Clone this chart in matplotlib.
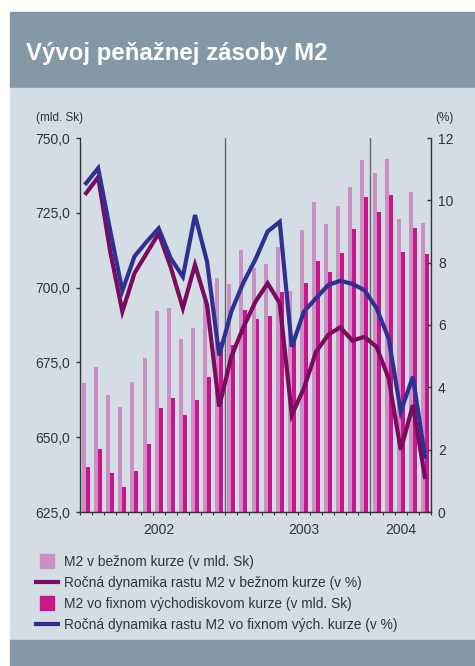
import matplotlib
matplotlib.use("Agg")
import matplotlib.pyplot as plt
from matplotlib.patches import Rectangle
from matplotlib.lines import Line2D
from matplotlib.ticker import FuncFormatter, FixedLocator
import numpy as np

# ==========================================================
#  DATA - peňažná zásoba M2, mesačne 01/2002 - 05/2004
# ==========================================================
mesiace = [f"{m:02d}/{r}" for r in (2002, 2003) for m in range(1, 13)] + \
          [f"{m:02d}/2004" for m in range(1, 6)]

# mld. Sk (ľavá os)
m2_bezny = [668.1, 673.5, 664.1, 660.1, 668.5, 676.5, 692.2, 693.2, 682.8, 686.5,
            695.5, 703.2, 701.2, 712.6, 706.6, 707.9, 713.6, 698.9, 719.3, 728.6,
            721.3, 727.3, 733.6, 742.6, 738.3, 743.0, 722.9, 732.0, 721.6]
m2_fixny = [640.0, 646.1, 638.0, 633.4, 638.7, 647.7, 659.8, 663.1, 657.4, 662.4,
            670.1, 681.7, 680.8, 692.5, 689.6, 690.5, 698.5, 683.5, 701.5, 708.9,
            705.2, 711.6, 719.6, 730.3, 725.3, 730.9, 711.9, 719.9, 711.2]

# % (pravá os)
dynamika_bezny = [10.23, 10.74, 8.35, 6.43, 7.66, 8.30, 8.94, 7.85, 6.54, 7.93,
                  6.64, 3.38, 4.98, 5.93, 6.75, 7.34, 6.70, 3.11, 3.97, 5.14,
                  5.68, 5.93, 5.50, 5.62, 5.30, 4.29, 1.99, 3.43, 1.12]
dynamika_fixny = [10.55, 11.03, 9.02, 7.10, 8.20, 8.67, 9.10, 8.14, 7.55, 9.53,
                  8.03, 5.02, 6.43, 7.36, 8.11, 9.00, 9.31, 5.30, 6.43, 6.86,
                  7.28, 7.42, 7.32, 7.12, 6.54, 5.57, 3.22, 4.34, 1.78]

roky = ["2002", "2003", "2004"]
roky_mesiac = ["07/2002", "07/2003", "03/2004"]
zaciatky_rokov = ["01/2003", "01/2004"]

popisy = ["M2 v bežnom kurze (v mld. Sk)",
          "Ročná dynamika rastu M2 v bežnom kurze (v %)",
          "M2 vo fixnom východiskovom kurze (v mld. Sk)",
          "Ročná dynamika rastu M2 vo fixnom vých. kurze (v %)"]

# farby
SIVA_PAS = "#8399a7"
POZADIE = "#d4dde3"
RUZOVA = "#cc8fc4"
MAGENTA = "#c8178d"
FIALOVA = "#7b0b5f"
MODRA = "#2e3192"
OS = "#333333"

plt.rcParams["font.family"] = ["Liberation Sans", "DejaVu Sans"]

W, H = 475, 666
fig = plt.figure(figsize=(W / 100, H / 100), dpi=100)
fig.patch.set_facecolor("white")

# pozadie - hlavička, panel, spodný pás (pod osami)
fig.patches.append(Rectangle((10 / W, 1 - 88 / H), 1, 76 / H, transform=fig.transFigure,
                             color=SIVA_PAS, zorder=-2))
fig.patches.append(Rectangle((10 / W, 1 - 640 / H), 1, 552 / H, transform=fig.transFigure,
                             color=POZADIE, zorder=-2))
fig.patches.append(Rectangle((10 / W, 0), 1, 26 / H, transform=fig.transFigure,
                             color=SIVA_PAS, zorder=-2))

fig.text(26 / W, 1 - 60 / H, "Vývoj peňažnej zásoby M2", color="white",
         fontsize=17.3, fontweight="bold", va="baseline", ha="left")

# ==========================================================
#  GRAF
# ==========================================================
ax = fig.add_axes([80 / W, 1 - 512 / H, 351 / W, 374 / H])
ax.set_facecolor("none")
x = np.arange(len(mesiace))
sirka = 0.33

b1 = ax.bar(x - sirka / 2, m2_bezny, width=sirka, color=RUZOVA, zorder=2)
b2 = ax.bar(x + sirka / 2, m2_fixny, width=sirka, color=MAGENTA, zorder=2)

for m in zaciatky_rokov:
    ax.axvline(mesiace.index(m) - 0.5, color="#666666", lw=1, zorder=3)

ax.set_xlim(-0.5, len(mesiace) - 0.5)
ax.set_ylim(625, 750)
ax.set_yticks(np.arange(625, 751, 25))
ax.yaxis.set_major_formatter(FuncFormatter(lambda v, p: f"{v:.1f}".replace(".", ",")))
ax.tick_params(axis="y", direction="out", length=3, width=1, color=OS,
               labelsize=10, labelcolor="#333333", pad=4)

ax.set_xticks([mesiace.index(m) for m in roky_mesiac])
ax.set_xticklabels(roky)
ax.xaxis.set_minor_locator(FixedLocator(np.arange(-0.5, len(mesiace), 1)))
ax.tick_params(axis="x", which="major", length=0, labelsize=10, labelcolor="#333333", pad=8)
ax.tick_params(axis="x", which="minor", length=2, width=0.8, color=OS)

for s in ["top", "right"]:
    ax.spines[s].set_visible(False)
for s in ["left", "bottom"]:
    ax.spines[s].set_color(OS)
    ax.spines[s].set_linewidth(1)

ax2 = ax.twinx()
ax2.set_facecolor("none")
l1, = ax2.plot(x, dynamika_bezny, color=FIALOVA, lw=3, solid_joinstyle="miter", zorder=4)
l2, = ax2.plot(x, dynamika_fixny, color=MODRA, lw=3, solid_joinstyle="miter", zorder=4)
ax2.set_ylim(0, 12)
ax2.set_yticks(np.arange(0, 13, 2))
ax2.tick_params(axis="y", direction="in", length=3, width=1, color=OS,
                labelsize=10, labelcolor="#333333", pad=5)
for s in ["top", "left", "bottom"]:
    ax2.spines[s].set_visible(False)
ax2.spines["right"].set_color(OS)
ax2.spines["right"].set_linewidth(1)

fig.text(36 / W, 1 - 118 / H, "(mld. Sk)", fontsize=8.5, color="#333333", va="center")
fig.text(435 / W, 1 - 118 / H, "(%)", fontsize=8.5, color="#333333", va="center")

# legenda
h1 = Line2D([], [], marker="s", ls="none", markersize=10, color=RUZOVA)
h3 = Line2D([], [], marker="s", ls="none", markersize=10, color=MAGENTA)
fig.legend([h1, l1, h3, l2], popisy, loc="upper left",
           bbox_to_anchor=(36 / W, 1 - 555 / H), frameon=False, fontsize=9.9,
           handlelength=1.6, handletextpad=0.45, labelspacing=0.5,
           borderpad=0, borderaxespad=0, labelcolor="#333333")

fig.savefig("out.png", dpi=100, facecolor="white")
